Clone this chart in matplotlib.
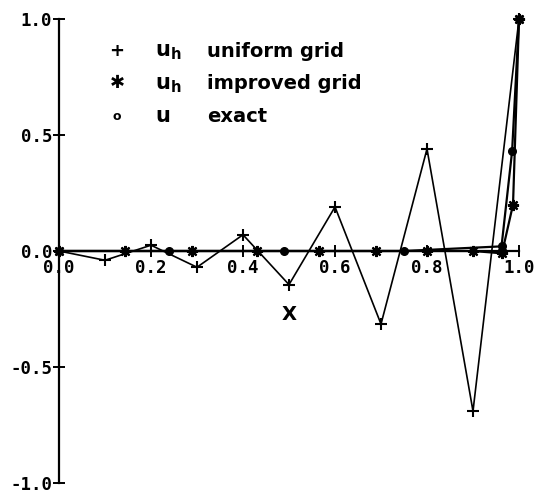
import matplotlib
matplotlib.use('Agg')
from matplotlib import pyplot as plt

# uniform grid solution u_h
x_uniform = [0.0, 0.1, 0.2, 0.3, 0.4, 0.5, 0.6, 0.7, 0.8, 0.9, 1.0]
u_uniform = [0.0, -0.04, 0.025, -0.07, 0.07, -0.145, 0.19, -0.315, 0.44, -0.69, 1.0]

# improved grid solution u_h
x_improved = [0.0, 0.143, 0.29, 0.43, 0.565, 0.69, 0.80, 0.90, 0.963, 0.987, 1.0]
u_improved = [0.0, 0.0, 0.0, 0.0, 0.0, 0.0, 0.0, 0.0, -0.01, 0.2, 1.0]

# exact solution u
x_exact = [0.0, 0.24, 0.49, 0.75, 0.962, 0.985, 1.0]
u_exact = [0.0, 0.0, 0.0, 0.0, 0.02, 0.43, 1.0]

x_ticks = [0.0, 0.2, 0.4, 0.6, 0.8, 1.0]
y_ticks = [-1.0, -0.5, 0.0, 0.5, 1.0]

legend_rows = [('+', r'$\mathbf{u_h}$', 'uniform grid'),
               ('\u2731', r'$\mathbf{u_h}$', 'improved grid'),
               ('o', r'$\mathbf{u}$', 'exact')]

plt.rcParams['mathtext.fontset'] = 'dejavusans'

fig = plt.figure(figsize=(5.35, 4.93), dpi=100)
ax = fig.add_axes([59 / 535, 10 / 493, 460 / 535, 464 / 493])

ax.plot(x_uniform, u_uniform, color='black', lw=1.2, marker='+', ms=9, mew=1.5,
        clip_on=False, zorder=3)
ax.plot(x_improved, u_improved, color='black', lw=1.6, marker=(8, 2, 0), ms=8,
        mew=1.6, clip_on=False, zorder=3)
ax.plot(x_exact, u_exact, color='black', lw=1.6, marker='o', ms=5.5,
        clip_on=False, zorder=3)

ax.set_xlim(0, 1)
ax.set_ylim(-1, 1)
ax.spines['top'].set_visible(False)
ax.spines['right'].set_visible(False)
ax.spines['bottom'].set_position(('data', 0))
ax.spines['left'].set_linewidth(1.6)
ax.spines['bottom'].set_linewidth(1.6)

ax.set_xticks(x_ticks)
ax.set_yticks(y_ticks)
ax.set_xticklabels(['%.1f' % v for v in x_ticks])
ax.set_yticklabels(['%.1f' % v for v in y_ticks])
ax.tick_params(direction='inout', length=8, width=1.4, labelsize=12.5)
ax.tick_params(axis='x', pad=2)
ax.tick_params(axis='y', pad=1)
for lab in ax.get_xticklabels() + ax.get_yticklabels():
    lab.set_family('DejaVu Sans Mono')
    lab.set_weight('bold')

ax.set_xlabel('X', fontsize=14, fontweight='bold', labelpad=20)

for i, (sym, var, desc) in enumerate(legend_rows):
    yb = [0.919, 0.849, 0.778][i]
    ax.text(0.126, yb + 0.012, sym, transform=ax.transAxes, ha='center', va='center',
            fontsize=13 if sym != 'o' else 9, fontweight='bold',
            family=['DejaVu Sans'])
    ax.text(0.209, yb, var, transform=ax.transAxes, ha='left', va='baseline',
            fontsize=15)
    ax.text(0.322, yb, desc, transform=ax.transAxes, ha='left', va='baseline',
            fontsize=14, fontweight='bold')

fig.savefig('out.png', dpi=100)
